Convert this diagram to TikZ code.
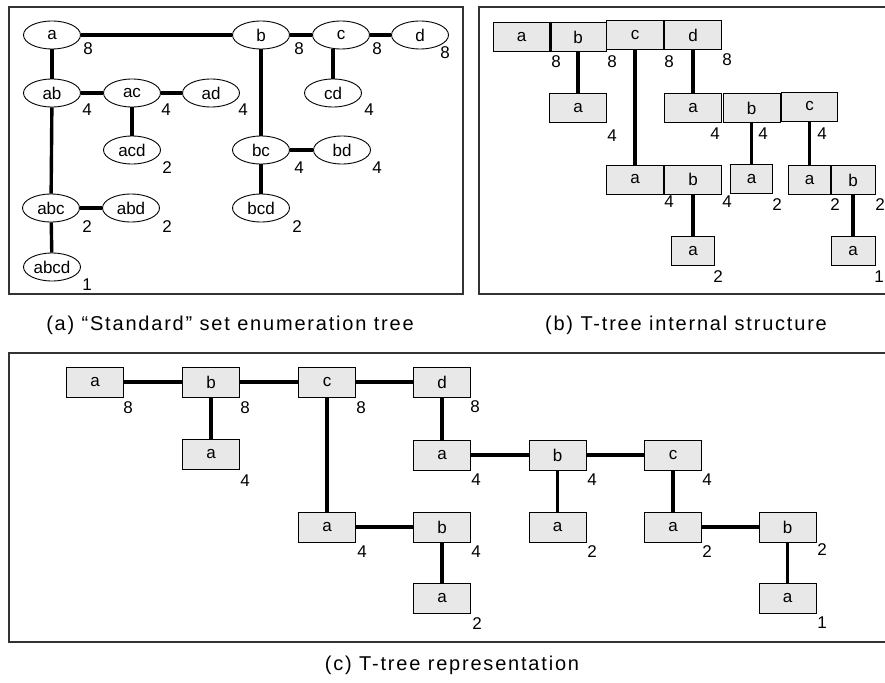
\documentclass[tikz,border=0pt]{standalone}
\usepackage{fontspec}
\setmainfont{Liberation Sans}
\newfontfamily\capfont[LetterSpace=9]{Liberation Sans}
\usepackage{tikz}
\usepackage{xcolor}
\usetikzlibrary{calc,shapes.geometric}

\definecolor{cellgray}{gray}{0.91}

\begin{document}
\begin{tikzpicture}[x=1pt,y=-1pt,
  ell/.style={draw,ellipse,line width=0.9pt,inner sep=0pt,minimum width=57,minimum height=28,font=\fontsize{17}{17}\selectfont},
  cell/.style={draw,line width=0.9pt,fill=cellgray,inner sep=0pt,minimum width=57,minimum height=29,font=\fontsize{17}{17}\selectfont},
  cnt/.style={inner sep=0pt,font=\fontsize{17}{17}\selectfont},
  edge/.style={line width=3.4pt},
  frame/.style={line width=1.5pt,color=black!80},
  captxt/.style={inner sep=0pt,font=\fontsize{20}{20}\capfont}]

\useasboundingbox (0,0) rectangle (885,682);

\draw[frame] (9,7) rectangle (463,294);
\draw[frame] (479,7) rectangle (895,294);
\draw[frame] (9,353) rectangle (895,642);

% (a) set enumeration tree
\node[ell] (a) at (52,35) {a};
\node[ell] (b) at (261,35) {b};
\node[ell] (c) at (341,35) {c};
\node[ell] (d) at (420,35) {d};
\node[ell] (ab) at (52,93) {ab};
\node[ell] (ac) at (132,93) {ac};
\node[ell] (ad) at (211,93) {ad};
\node[ell] (cd) at (333,93) {cd};
\node[ell] (acd) at (132,150) {acd};
\node[ell] (bc) at (261,150) {bc};
\node[ell] (bd) at (342,150) {bd};
\node[ell] (abc) at (51,208) {abc};
\node[ell] (abd) at (131,208) {abd};
\node[ell] (bcd) at (261,208) {bcd};
\node[ell] (abcd) at (52,267) {abcd};

\node[cnt] (na) at (88,49) {8};
\node[cnt] (nb) at (299,49) {8};
\node[cnt] (nc) at (377,49) {8};
\node[cnt] (nd) at (445,53) {8};
\node[cnt] (nab) at (87,110) {4};
\node[cnt] (nac) at (166,110) {4};
\node[cnt] (nad) at (243,110) {4};
\node[cnt] (ncd) at (369,110) {4};
\node[cnt] (nacd) at (167,168) {2};
\node[cnt] (nbc) at (299,168) {4};
\node[cnt] (nbd) at (377,168) {4};
\node[cnt] (nabc) at (87,227) {2};
\node[cnt] (nabd) at (167,227) {2};
\node[cnt] (nbcd) at (297,227) {2};
\node[cnt] (nabcd) at (87,285) {1};

\draw[edge] (a) -- (b);
\draw[edge] (b) -- (c);
\draw[edge] (c) -- (d);
\draw[edge] (a) -- (ab);
\draw[edge] (ab) -- (ac);
\draw[edge] (ac) -- (ad);
\draw[edge] (ac) -- (acd);
\draw[edge] (ab) -- (abc);
\draw[edge] (abc) -- (abd);
\draw[edge] (abc) -- (abcd);
\draw[edge] (b) -- (bc);
\draw[edge] (bc) -- (bd);
\draw[edge] (bc) -- (bcd);
\draw[edge] (cd) -- (cd |- c.south);

% (b) internal structure
\node[cell] (ta) at (521.5,37) {a};
\node[cell] (tb) at (578,37) {b};
\node[cell] (tc) at (635,35) {c};
\node[cell] (td) at (693,35) {d};
\node[cell] (ba) at (578,108) {a};
\node[cell] (ca) at (635,179.5) {a};
\node[cell] (cb) at (693,179.5) {b};
\node[cell,minimum width=43] (cba) at (693,251) {a};
\node[cell] (da) at (693,108) {a};
\node[cell] (db) at (751.5,108) {b};
\node[cell,minimum width=56] (dc) at (809.5,106.5) {c};
\node[cell,minimum width=42] (dba) at (751.5,179) {a};
\node[cell,minimum width=42] (dca) at (809.5,180) {a};
\node[cell,minimum width=44] (dcb) at (853,180) {b};
\node[cell,minimum width=44] (dcba) at (853,251) {a};

\node[cnt] (nta) at (556,62) {8};
\node[cnt] (ntb) at (612,62) {8};
\node[cnt] (ntc) at (669,62) {8};
\node[cnt] (ntd) at (727,60) {8};
\node[cnt] (nba) at (612,136) {4};
\node[cnt] (nca) at (669,202) {4};
\node[cnt] (ncb) at (727,202) {4};
\node[cnt] (ncba) at (718,277) {2};
\node[cnt] (nda) at (715,134) {4};
\node[cnt] (ndb) at (763,134) {4};
\node[cnt] (ndc) at (822,134) {4};
\node[cnt] (ndba) at (777,205) {2};
\node[cnt] (ndca) at (835,205) {2};
\node[cnt] (ndcb) at (880,205) {2};
\node[cnt] (ndcba) at (879,277) {1};

\draw[edge] (ta.north east) -- (ta.south east);
\draw[edge] (tb) -- (ba);
\draw[edge] (tc) -- (ca);
\draw[edge] (cb) -- (cba);
\draw[edge] (td) -- (da);
\draw[edge] (db) -- (dba);
\draw[edge] (dc) -- (dca);
\draw[edge] (dcb) -- (dcba);

% (c) representation
\node[cell,minimum height=30] (ra) at (95,382) {a};
\node[cell,minimum height=30] (rb) at (211,382) {b};
\node[cell,minimum height=30] (rc) at (327,382) {c};
\node[cell,minimum height=30] (rd) at (442,382) {d};
\node[cell,minimum height=30] (rba) at (211,454) {a};
\node[cell,minimum height=30] (rca) at (327,527) {a};
\node[cell,minimum height=30] (rcb) at (442,527) {b};
\node[cell,minimum height=30] (rcba) at (442,598) {a};
\node[cell,minimum height=30] (rda) at (442,455) {a};
\node[cell,minimum height=30] (rdb) at (557.5,455) {b};
\node[cell,minimum height=30] (rdc) at (673,455) {c};
\node[cell,minimum height=30] (rdba) at (557.5,527) {a};
\node[cell,minimum height=30] (rdca) at (673,527) {a};
\node[cell,minimum height=30] (rdcb) at (787.5,527) {b};
\node[cell,minimum height=30] (rdcba) at (787.5,598) {a};

\node[cnt] (nra) at (128,408) {8};
\node[cnt] (nrb) at (245,408) {8};
\node[cnt] (nrc) at (361,408) {8};
\node[cnt] (nrd) at (475,407) {8};
\node[cnt] (nrba) at (245,481) {4};
\node[cnt] (nrca) at (362,552) {4};
\node[cnt] (nrcb) at (476,552) {4};
\node[cnt] (nrcba) at (477,624) {2};
\node[cnt] (nrda) at (476,480) {4};
\node[cnt] (nrdb) at (592,480) {4};
\node[cnt] (nrdc) at (707,480) {4};
\node[cnt] (nrdba) at (592,552) {2};
\node[cnt] (nrdca) at (707,552) {2};
\node[cnt] (nrdcb) at (822,550) {2};
\node[cnt] (nrdcba) at (822,623) {1};

\draw[edge] (ra) -- (rb);
\draw[edge] (rb) -- (rc);
\draw[edge] (rc) -- (rd);
\draw[edge] (rb) -- (rba);
\draw[edge] (rc) -- (rca);
\draw[edge] (rca) -- (rcb);
\draw[edge] (rcb) -- (rcba);
\draw[edge] (rd) -- (rda);
\draw[edge] (rda) -- (rdb);
\draw[edge] (rdb) -- (rdc);
\draw[edge] (rdb) -- (rdba);
\draw[edge] (rdc) -- (rdca);
\draw[edge] (rdca) -- (rdcb);
\draw[edge] (rdcb) -- (rdcba);

\node[captxt] (capa) at (230,325) {(a) “Standard” set enumeration tree};
\node[captxt] (capb) at (686,325) {(b) T-tree internal structure};
\node[captxt] (capc) at (452,665) {(c) T-tree representation};

\end{tikzpicture}
\end{document}
